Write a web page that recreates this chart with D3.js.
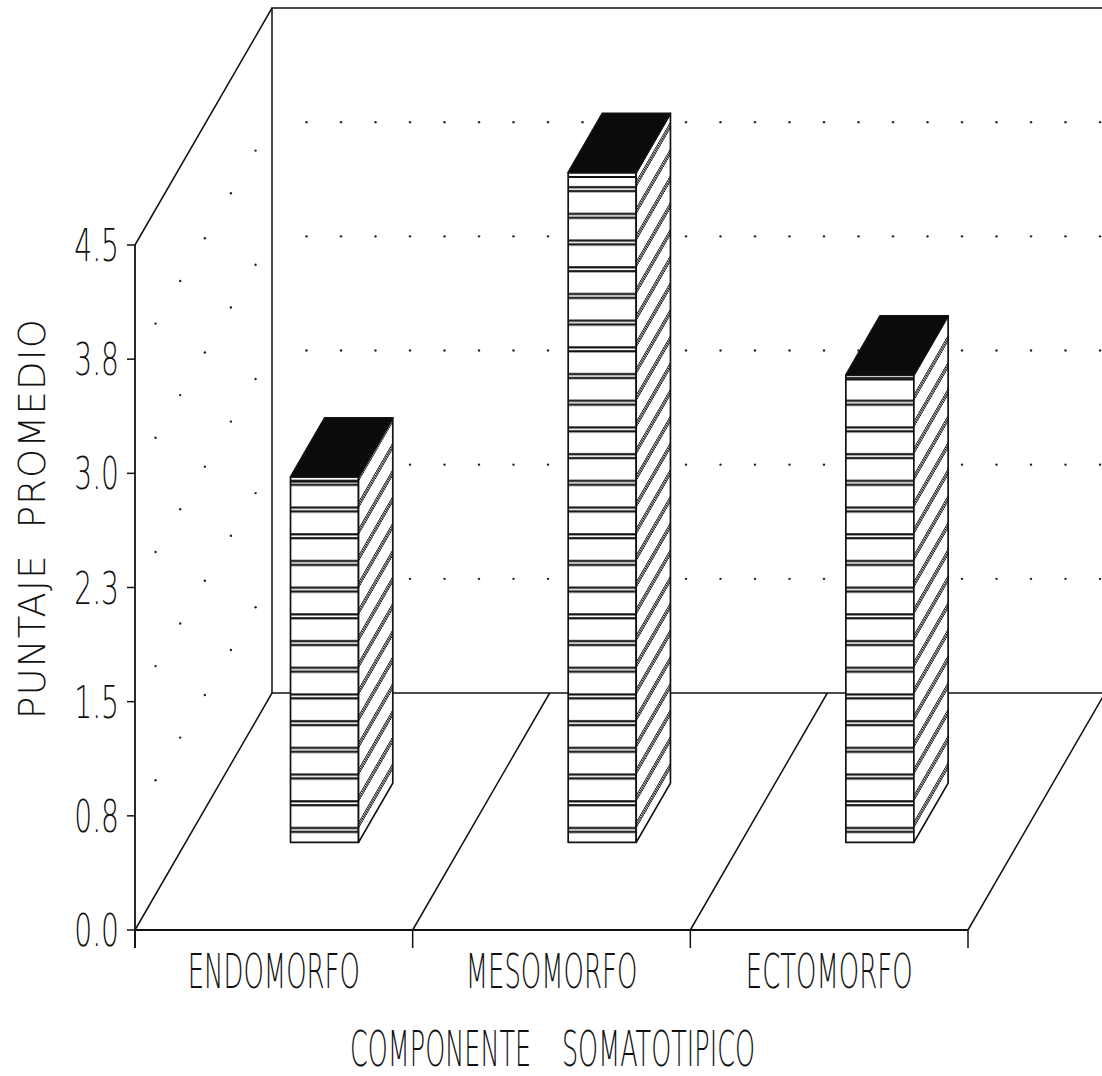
<!DOCTYPE html>
<html>
<head>
<meta charset="utf-8">
<script src="https://cdn.jsdelivr.net/npm/d3@7"></script>
<style>
  body { margin: 0; background: #fff; }
  text { font-family: "DejaVu Sans", sans-serif; font-weight: 200; fill: #111; }
</style>
</head>
<body>
<div id="chart"></div>
<script>
// data
const categories = ['ENDOMORFO', 'MESOMORFO', 'ECTOMORFO'];
const values = [2.40, 4.40, 3.07];
const yTicks = [0, 0.75, 1.5, 2.25, 3.0, 3.75, 4.5];
const yTickLabels = ['0.0', '0.8', '1.5', '2.3', '3.0', '3.8', '4.5'];
const gridLevels = [0.75, 1.5, 2.25, 3.0, 3.75];
const yTitle = 'PUNTAJE  PROMEDIO';
const xTitleWords = ['COMPONENTE', 'SOMATOTIPICO'];

const width = 1102, height = 1076;

// oblique projection: front origin + depth vector
const ox = 135, oy = 930, floorW = 833;
const depthX = 137, depthY = 237;

const x = d3.scaleBand().domain(categories).range([ox, ox + floorW]);
const y = d3.scaleLinear().domain([0, 4.5]).range([0, 685]);

function proj(px, v, d) {
    return [px + d * depthX, oy - y(v) - d * depthY];
}

const svg = d3.select('#chart').append('svg')
    .attr('width', width)
    .attr('height', height)
    .attr('viewBox', [0, 0, width, height]);

svg.append('rect').attr('width', width).attr('height', height).attr('fill', '#fff');

const defs = svg.append('defs');

// horizontal double stripes for front faces
const stripes = defs.append('pattern')
    .attr('id', 'stripes')
    .attr('patternUnits', 'userSpaceOnUse')
    .attr('width', 10).attr('height', 26.7).attr('y', -1);
stripes.append('rect').attr('width', 10).attr('height', 26.7).attr('fill', '#fff');
[1.3, 5.2].forEach(s => stripes.append('line')
    .attr('x1', 0).attr('x2', 10).attr('y1', s).attr('y2', s)
    .attr('stroke', '#111').attr('stroke-width', 2.2));

// slanted hatching for side faces
const hatch = defs.append('pattern')
    .attr('id', 'hatch')
    .attr('patternUnits', 'userSpaceOnUse')
    .attr('width', 10).attr('height', 26.7)
    .attr('patternTransform', 'skewY(-60)');
hatch.append('rect').attr('width', 10).attr('height', 26.7).attr('fill', '#fff');
[2, 4.6, 7.2].forEach(s => hatch.append('line')
    .attr('x1', 0).attr('x2', 10).attr('y1', s).attr('y2', s)
    .attr('stroke', '#111').attr('stroke-width', 1.6));

const frame = svg.append('g')
    .attr('fill', 'none')
    .attr('stroke', '#111')
    .attr('stroke-width', 1.5);

const line = d3.line();

// back wall
frame.append('path').attr('d', line([proj(ox, 0, 1), proj(ox, 4.5, 1), proj(ox + floorW, 4.5, 1)]));
// left wall top
frame.append('path').attr('d', line([proj(ox, 4.5, 0), proj(ox, 4.5, 1)]));
// floor back edge
frame.append('path').attr('d', line([proj(ox, 0, 1), proj(ox + floorW, 0, 1)]));
// floor dividers
const bounds = categories.map(c => x(c)).concat([ox + floorW]);
frame.selectAll('.div')
    .data(bounds)
    .join('path')
    .attr('d', b => line([proj(b, 0, 0), proj(b, 0, 1)]));

// y axis + ticks
frame.append('path').attr('stroke-width', 1.8)
    .attr('d', line([[ox, oy + 18], proj(ox, 4.5, 0)]));
frame.selectAll('.ytick')
    .data(yTicks)
    .join('path')
    .attr('d', v => line([[ox - 8, oy - y(v)], [ox, oy - y(v)]]));

// x axis + ticks
frame.append('path').attr('stroke-width', 2)
    .attr('d', line([[ox, oy], [ox + floorW, oy]]));
frame.selectAll('.xtick')
    .data(bounds)
    .join('path')
    .attr('d', b => line([[b, oy], [b, oy + 18]]));

// dotted grid on walls
const leftDepths = [0.15, 0.33, 0.51, 0.70, 0.88];
const backXs = d3.range(ox + 34.5, ox + floorW, 34.5);
const dots = [];
gridLevels.forEach(v => {
    leftDepths.forEach(d => dots.push(proj(ox, v, d)));
    backXs.forEach(px => dots.push(proj(px, v, 1)));
});
svg.append('g').selectAll('circle')
    .data(dots)
    .join('circle')
    .attr('cx', d => d[0])
    .attr('cy', d => d[1])
    .attr('r', 1.2)
    .attr('fill', '#222');

// bars
const d0 = 0.37, d1 = 0.62;
const bars = categories.map((c, i) => {
    const bw = x.bandwidth() * 0.245;
    const cx = x(c) + x.bandwidth() / 2;
    return {
        c, v: values[i],
        l: cx - bw / 2, r: cx + bw / 2
    };
});

const bar = svg.append('g')
    .selectAll('g')
    .data(bars)
    .join('g')
    .attr('stroke', '#111')
    .attr('stroke-width', 1.7)
    .attr('stroke-linejoin', 'round');

// front face
bar.append('path')
    .attr('fill', 'url(#stripes)')
    .attr('d', b => line([proj(b.l, 0, d0), proj(b.r, 0, d0), proj(b.r, b.v, d0), proj(b.l, b.v, d0)]) + 'Z');
// extra line just below the top edge
bar.append('path')
    .attr('stroke-width', 2)
    .attr('d', b => {
        const [x1, y1] = proj(b.l, b.v, d0);
        const [x2] = proj(b.r, b.v, d0);
        return line([[x1, y1 + 4.5], [x2, y1 + 4.5]]);
    });
// side face
bar.append('path')
    .attr('fill', 'url(#hatch)')
    .attr('d', b => line([proj(b.r, 0, d0), proj(b.r, 0, d1), proj(b.r, b.v, d1), proj(b.r, b.v, d0)]) + 'Z');
// top face
bar.append('path')
    .attr('fill', '#0b0b0b')
    .attr('d', b => line([proj(b.l, b.v, d0), proj(b.r, b.v, d0), proj(b.r, b.v, d1), proj(b.l, b.v, d1)]) + 'Z');

// narrow plotter-like text: place a group and squeeze it horizontally
function label(parent, tx, ty, sx, size, anchor, str) {
    return parent.append('g')
        .attr('transform', `translate(${tx},${ty}) scale(${sx},1)`)
        .append('text')
        .attr('text-anchor', anchor)
        .attr('font-size', size)
        .text(str);
}

// y tick labels
const yLab = svg.append('g');
yTicks.forEach((v, i) => label(yLab, 119, oy - y(v) + 16, 0.64, 44, 'end', yTickLabels[i]));

// category labels
const xLab = svg.append('g');
categories.forEach(c => label(xLab, x(c) + x.bandwidth() / 2, 988, 0.54, 48, 'middle', c));

// x title: two words with a wide gap between them
const xt = svg.append('g');
label(xt, 350, 1066, 0.52, 49, 'start', xTitleWords[0]);
label(xt, 755, 1066, 0.52, 49, 'end', xTitleWords[1]);

// y title
svg.append('text')
    .attr('transform', 'translate(45,519) rotate(-90)')
    .attr('text-anchor', 'middle')
    .attr('font-size', 37)
    .style('white-space', 'pre')
    .attr('textLength', 400)
    .attr('lengthAdjust', 'spacing')
    .text(yTitle);
</script>
</body>
</html>
